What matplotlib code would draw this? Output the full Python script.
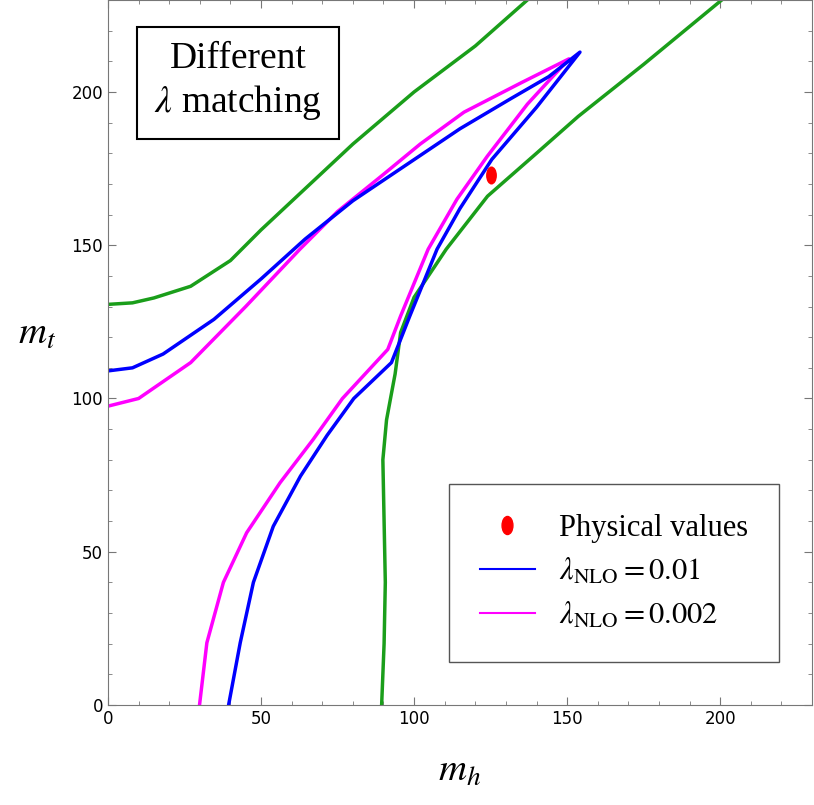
import matplotlib
matplotlib.use("Agg")
import matplotlib.pyplot as plt
import numpy as np
from matplotlib.lines import Line2D
from matplotlib.markers import MarkerStyle
from matplotlib.transforms import Affine2D

plt.rcParams["mathtext.fontset"] = "stix"
plt.rcParams["font.family"] = "Liberation Serif"

# green boundary curves
green_up_x = [0, 8, 15, 27, 40, 50, 65, 80, 100, 120, 137]
green_up_y = [130.7, 131.2, 132.8, 136.6, 145, 155, 169, 183, 200, 215, 230]
green_lo_x = [89.4, 90.2, 90.6, 90.2, 89.8, 91.0, 92.3, 93.8, 95.6, 100, 110.5, 124, 140, 153.6, 175, 200.5]
green_lo_y = [0, 20, 40, 60, 80, 93, 100, 108, 121.5, 133, 148.7, 166, 180, 192, 209, 230]

# lambda_NLO = 0.01
blue_x = [0, 8, 18, 34.6, 50, 64.4, 80, 101.6, 115, 131.4, 144, 154.2,
          140, 125.4, 115, 107.5, 98.6, 92.6,
          80.3, 71.6, 62.9, 54, 47.5, 43.2, 39.4]
blue_y = [109, 110, 114.5, 125.8, 139, 152, 164.5, 179, 188, 197.7, 205, 213,
          195, 178, 162, 148.7, 126.9, 111.7,
          100, 88, 74.7, 58.3, 40, 20.3, 0]
# lambda_NLO = 0.002
mag_x = [0, 10, 27, 45, 62.7, 75, 89.5, 102, 116.3, 135, 150.6,
         137, 123.9, 114, 104.6, 95.6, 91.4,
         76.6, 67, 56.2, 45.3, 37.7, 32.3, 29.9]
mag_y = [97.5, 100, 111.7, 130, 148.7, 161, 172.7, 183, 193.4, 203, 210.8,
         196, 179, 165, 148.7, 126.9, 116,
         100, 86.6, 72.5, 56.2, 40, 20.3, 0]

phys_x, phys_y = 125.1, 173.0

fig = plt.figure(figsize=(8.14, 8.05), dpi=100)
ax = fig.add_axes([108 / 814, 100 / 805, 704 / 814, 705 / 805])

ax.plot(green_up_x, green_up_y, color="#1a9e1a", lw=2.5)
ax.plot(green_lo_x, green_lo_y, color="#1a9e1a", lw=2.5)
ax.plot(mag_x, mag_y, color="#ff00ff", lw=2.5)
ax.plot(blue_x, blue_y, color="#0000ff", lw=2.5)
ellipse = MarkerStyle(MarkerStyle("o").get_path().transformed(Affine2D().scale(0.6, 1.0)))
ax.plot([phys_x], [phys_y], marker=ellipse, color="red", ms=13, lw=0, markeredgewidth=0)

ax.set_xlim(0, 230)
ax.set_ylim(0, 230)
ax.set_xticks([0, 50, 100, 150, 200])
ax.set_yticks([0, 50, 100, 150, 200])
ax.set_xticks(np.arange(0, 231, 10), minor=True)
ax.set_yticks(np.arange(0, 231, 10), minor=True)
ax.tick_params(labelsize=12, length=6, direction="in", top=True, right=True, color="#777777")
ax.tick_params(which="minor", length=3, direction="in", top=True, right=True, color="#777777")
for lab in ax.get_xticklabels() + ax.get_yticklabels():
    lab.set_family("DejaVu Sans")
for sp in ax.spines.values():
    sp.set_color("#777777")
ax.set_xlabel(r"$m_h$", fontsize=28, labelpad=18)
ax.set_ylabel(r"$m_t$", fontsize=28, rotation=0, labelpad=25)

ax.text(0.185, 0.884, "Different\n" + r"$\lambda$ matching", transform=ax.transAxes,
        fontsize=27, ha="center", va="center", linespacing=1.25,
        bbox=dict(facecolor="white", edgecolor="black", lw=1.5, boxstyle="square,pad=0.45"))

handles = [
    Line2D([], [], color="red", marker=ellipse, ms=13, lw=0),
    Line2D([], [], color="#0000ff", lw=1.5),
    Line2D([], [], color="#ff00ff", lw=1.5),
]
labels = ["Physical values", r"$\lambda_{\rm NLO} = 0.01$", r"$\lambda_{\rm NLO} = 0.002$"]
leg = ax.legend(handles, labels, loc="lower right", bbox_to_anchor=(0.975, 0.04),
                fontsize=22, fancybox=False, edgecolor="#555555", framealpha=1,
                borderpad=1.0, handlelength=1.8, labelspacing=0.45)

fig.savefig("out.png", dpi=100)
